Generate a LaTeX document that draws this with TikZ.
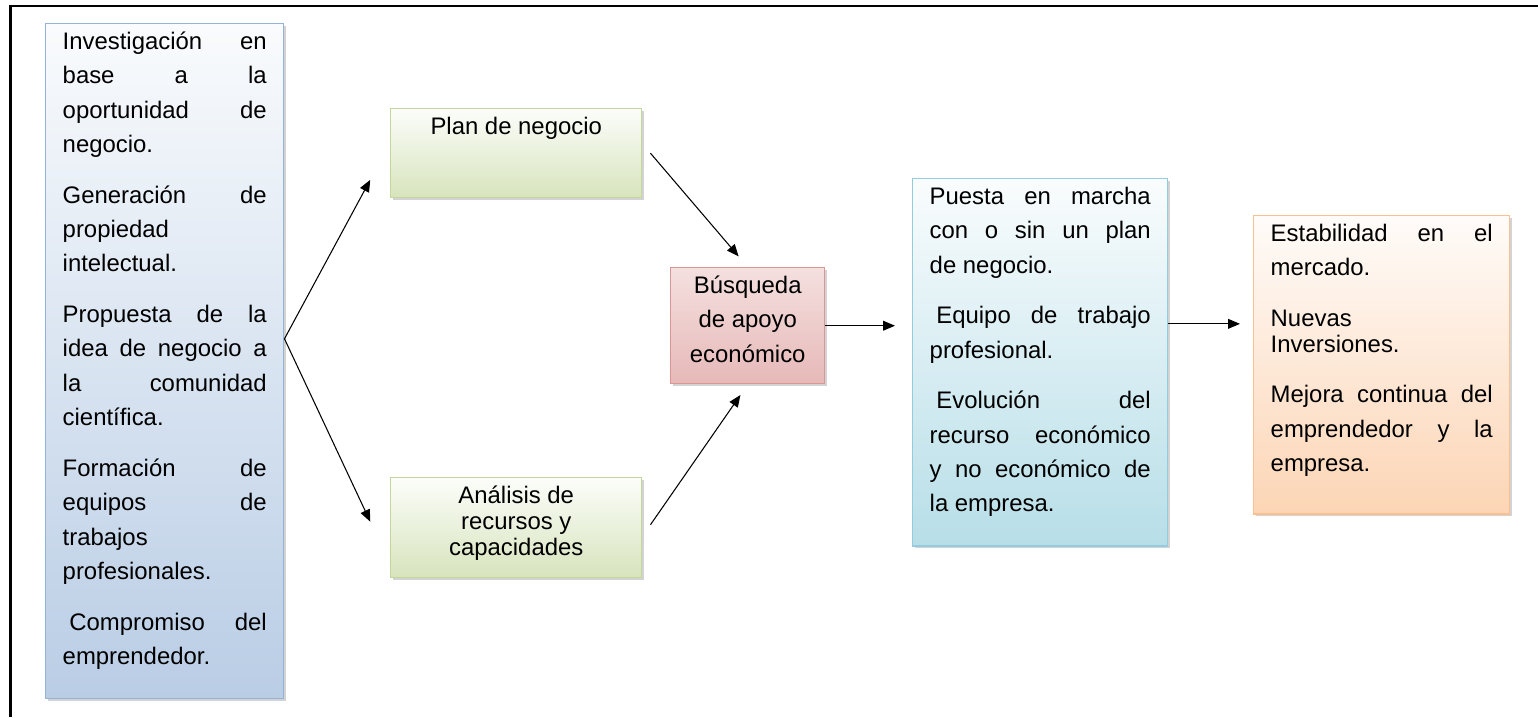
\documentclass[tikz,border=0pt]{standalone}
\usepackage{fontspec}
\setmainfont{Liberation Sans}
\usepackage{tikz}
\usetikzlibrary{arrows.meta,shadows}
\definecolor{AZ}{RGB}{185, 205, 229}
\definecolor{AZb}{RGB}{149, 179, 215}
\definecolor{VE}{RGB}{215, 228, 189}
\definecolor{VEb}{RGB}{195, 214, 155}
\definecolor{RO}{RGB}{230, 185, 184}
\definecolor{ROt}{RGB}{244, 224, 223}
\definecolor{ROb}{RGB}{217, 150, 148}
\definecolor{CE}{RGB}{183, 222, 232}
\definecolor{CEb}{RGB}{147, 205, 221}
\definecolor{NA}{RGB}{252, 213, 181}
\definecolor{NAb}{RGB}{250, 192, 144}
\newcommand{\cajatxt}[3]{\begin{minipage}[t][#1][t]{#2}\setlength{\parskip}{11.4pt}\tolerance=10000 \hbadness=10000 \hyphenpenalty=10000 #3\end{minipage}}
\tikzset{
  caja/.style={draw, line width=1pt, anchor=north west, inner xsep=0.425cm, inner ysep=1pt,
    drop shadow={shadow xshift=0.06cm, shadow yshift=-0.06cm, opacity=0.35},
    font=\fontsize{17}{24.5}\selectfont},
  azul/.style={draw=AZb, top color=AZ!8, bottom color=AZ},
  verde/.style={draw=VEb, top color=VE!8, bottom color=VE, inner xsep=0.3cm},
  rosa/.style={draw=ROb, top color=ROt, bottom color=RO, inner xsep=0.3cm},
  celeste/.style={draw=CEb, top color=CE!8, bottom color=CE},
  naranja/.style={draw=NAb, top color=NA!8, bottom color=NA},
  flecha/.style={-{Triangle[length=8.5pt,width=7pt]}, line width=0.75pt}
}
\begin{document}
\begin{tikzpicture}[x=0.025cm, y=-0.025cm]
  \useasboundingbox (0,0) rectangle (1538,717);
  % marco
  \draw[line width=2.8pt] (10.5,717) -- (10.5,5);
  \draw[line width=1.9pt] (9,6) -- (1538,6);

  % cajas
  \node[caja, azul] (inv) at (45,23) {\cajatxt{16.8cm}{5.1cm}{\strut Investigación en\linebreak base a la\linebreak oportunidad de\linebreak negocio.\par
    Generación de\linebreak propiedad\linebreak intelectual.\par
    Propuesta de la\linebreak idea de negocio a\linebreak la comunidad\linebreak científica.\par
    Formación de\linebreak equipos de\linebreak trabajos\linebreak profesionales.\par
    \hspace*{.28em}Compromiso del\linebreak emprendedor.}};
  \node[caja, verde] (plan) at (390,108) {\cajatxt{2.155cm}{5.675cm}{\centering\strut Plan de negocio\par}};
  \node[caja, verde] (anal) at (390,477) {\cajatxt{2.43cm}{5.675cm}{\centering\setlength{\baselineskip}{18.5pt}\rule{0pt}{17.6pt}Análisis de\\ recursos y\\ capacidades\par}};
  \node[caja, rosa] (busq) at (670,267) {\cajatxt{2.83cm}{3.25cm}{\centering\strut Búsqueda\\ de apoyo\\ económico\par}};
  \node[caja, celeste] (puesta) at (912,178) {\cajatxt{9.105cm}{5.525cm}{\strut Puesta en marcha\linebreak con o sin un plan\linebreak de negocio.\par
    \hspace*{.28em}Equipo de trabajo\linebreak profesional.\par
    \hspace*{.28em}Evolución del\linebreak recurso económico\linebreak y no económico de\linebreak la empresa.}};
  \node[caja, naranja] (estab) at (1253,215) {\cajatxt{7.38cm}{5.55cm}{\strut Estabilidad en el\linebreak mercado.\par
    Nuevas\\[-6pt]Inversiones.\par
    Mejora continua del\linebreak emprendedor y la\linebreak empresa.}};

  % flechas
  \draw[flecha, shorten >=1.04cm] ([yshift=0.56cm]inv.east) -- ([yshift=0.25cm]plan.west);
  \draw[flecha, shorten >=1.16cm] ([yshift=0.56cm]inv.east) -- ([yshift=-0.9cm]anal.west);
  \draw[flecha, shorten >=0.35cm] ([xshift=0.2cm]plan.east) -- (busq.north);
  \draw[flecha, shorten >=0.32cm] ([xshift=0.2cm,yshift=0.075cm]anal.east) -- (busq.south);
  \draw[flecha, shorten >=0.425cm] (busq.east) -- (busq.east -| puesta.west);
  \draw[flecha, shorten >=0.325cm] ([yshift=0.96cm]puesta.east) -- ([yshift=0.96cm]puesta.east -| estab.west);
\end{tikzpicture}
\end{document}
